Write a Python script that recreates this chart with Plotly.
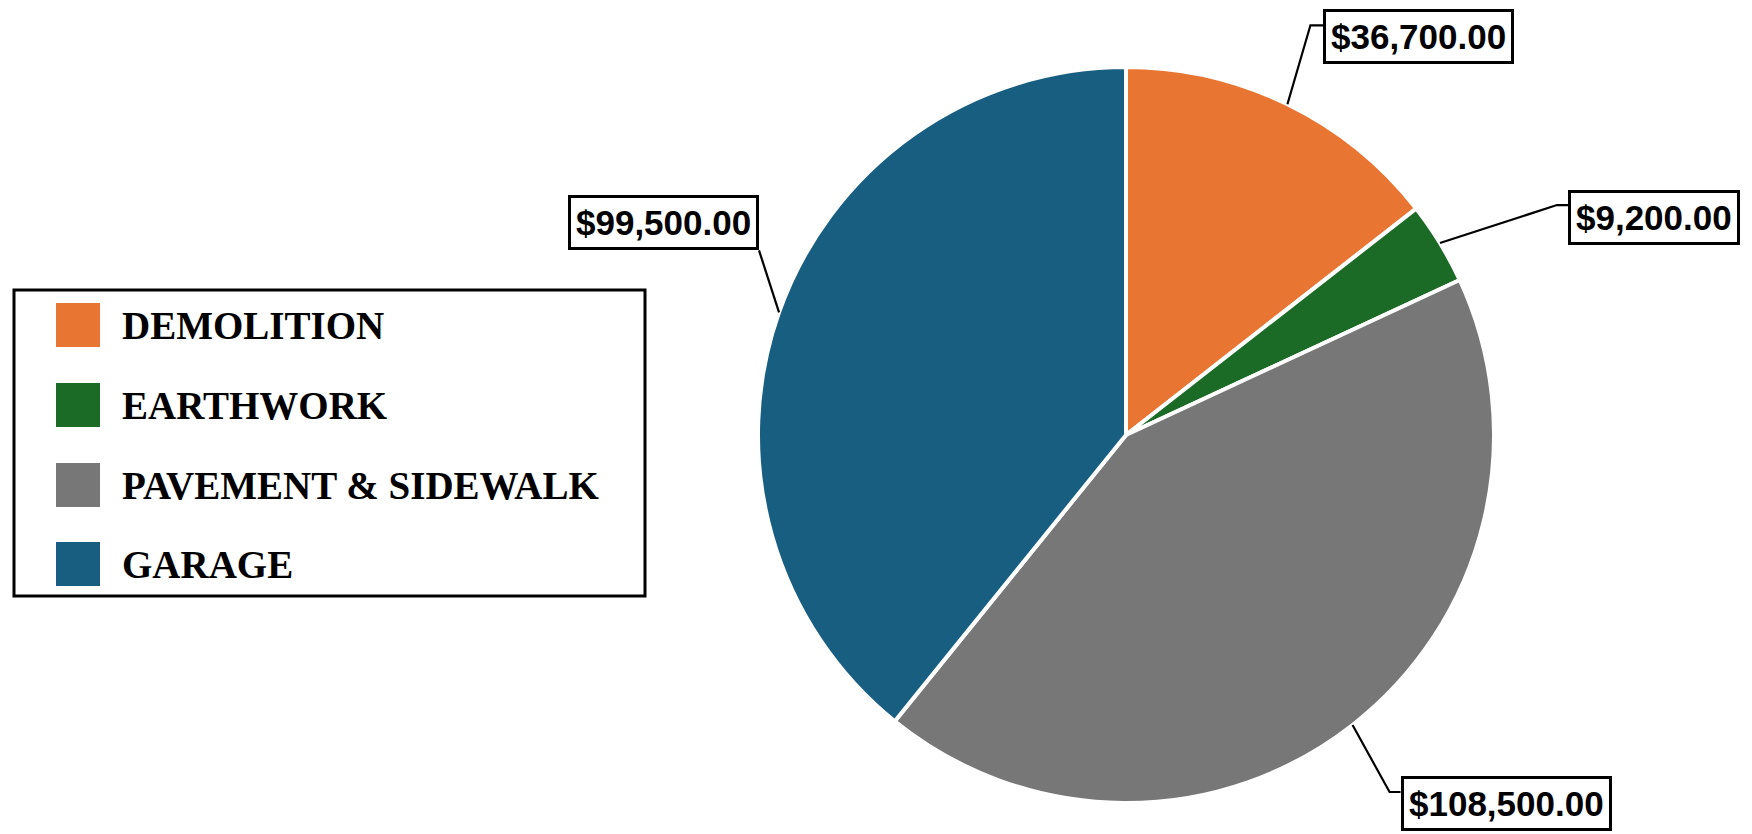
import math
import plotly.graph_objects as go

# ---- data ----
categories = ["DEMOLITION", "EARTHWORK", "PAVEMENT & SIDEWALK", "GARAGE"]
values = [36700, 9200, 108500, 99500]
colors = ["#E87532", "#1B6A26", "#777777", "#175E80"]

# ---- layout constants (pixels) ----
W, H = 1752, 834
CX, CY, R = 1126, 435, 368


def px(x):
    return x / W


def py(y):
    return 1 - y / H


fig = go.Figure(
    go.Pie(
        labels=categories,
        values=values,
        sort=False,
        direction="clockwise",
        rotation=0,
        marker=dict(colors=colors, line=dict(color="white", width=4)),
        textinfo="none",
        hoverinfo="label+value",
        domain=dict(x=[px(CX - R), px(CX + R)], y=[py(CY + R), py(CY - R)]),
        showlegend=False,
    )
)

# label placement offsets relative to the slice's edge point
label_layout = [
    dict(elbow=(23, -79), box=(36, -67.5), anchor="left"),
    dict(elbow=(117, -38), box=(128, -25.5), anchor="left"),
    dict(elbow=(37, 67), box=(48, 79), anchor="left"),
    dict(elbow=(-20, -62), box=(-20, -90), anchor="right"),
]

shapes = []
annotations = []
total = sum(values)
cum = 0.0
for v, lay in zip(values, label_layout):
    mid = (cum + v / 2) / total * 2 * math.pi
    cum += v
    ex = CX + R * math.sin(mid)
    ey = CY - R * math.cos(mid)
    elx, ely = ex + lay["elbow"][0], ey + lay["elbow"][1]
    bx, byc = ex + lay["box"][0], ey + lay["box"][1]
    path = f"M{px(ex)},{py(ey)} L{px(elx)},{py(ely)} L{px(bx)},{py(ely)}"
    shapes.append(dict(type="path", xref="paper", yref="paper", path=path,
                       line=dict(color="black", width=2.2)))
    annotations.append(dict(
        x=px(bx), y=py(byc), xref="paper", yref="paper",
        xanchor=lay["anchor"], yanchor="middle", showarrow=False,
        text=f"<b>${v:,.2f}</b>",
        font=dict(family="Liberation Sans, Arial", size=35, color="black"),
        bgcolor="white", bordercolor="black", borderwidth=3, borderpad=5,
    ))

# custom legend
shapes.append(dict(type="rect", xref="paper", yref="paper",
                   x0=px(14), x1=px(645), y0=py(596), y1=py(290),
                   line=dict(color="black", width=3), fillcolor="white", layer="below"))
row_y = [325, 405, 485, 564]
for cat, col, ry in zip(categories, colors, row_y):
    shapes.append(dict(type="rect", xref="paper", yref="paper",
                       x0=px(56), x1=px(100), y0=py(ry + 22), y1=py(ry - 22),
                       line=dict(width=0), fillcolor=col))
    annotations.append(dict(
        x=px(120), y=py(ry), xref="paper", yref="paper",
        xanchor="left", yanchor="middle", showarrow=False,
        text=f"<b>{cat}</b>",
        font=dict(family="Liberation Serif, Times New Roman", size=39, color="black"),
    ))

fig.update_layout(
    width=W, height=H,
    margin=dict(l=0, r=0, t=0, b=0),
    paper_bgcolor="white",
    plot_bgcolor="white",
    shapes=shapes,
    annotations=annotations,
    showlegend=False,
)

fig.write_html("out.html", config={"displayModeBar": False},
               post_script="document.body.style.margin='0';")
